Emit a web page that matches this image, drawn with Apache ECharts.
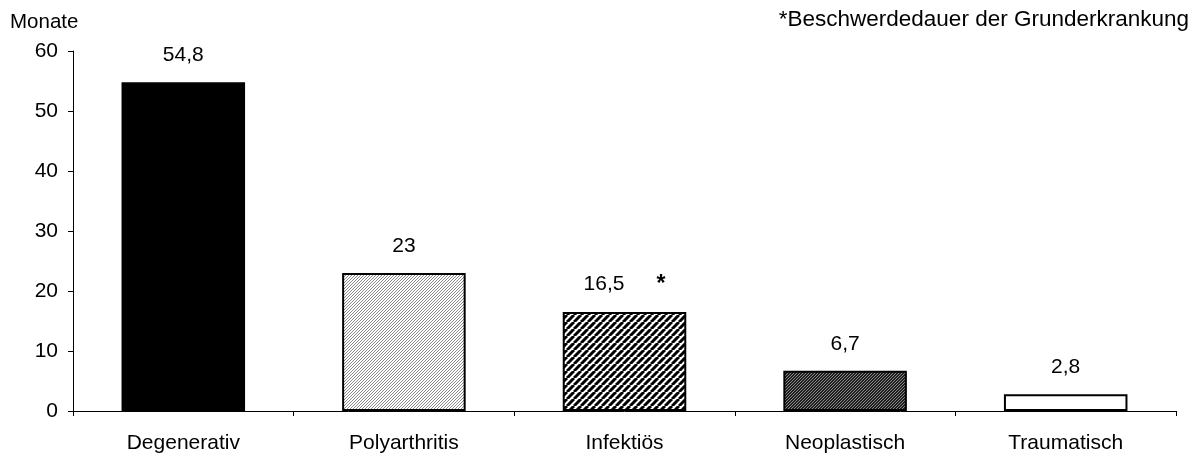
<!DOCTYPE html>
<html>
<head>
<meta charset="utf-8">
<script src="https://cdn.jsdelivr.net/npm/echarts@6/dist/echarts.min.js"></script>
<style>html,body{margin:0;padding:0;background:#fff}#c{width:1199px;height:456px}</style>
</head>
<body>
<div id="c"></div>
<script>
var categories = ['Degenerativ', 'Polyarthritis', 'Infektiös', 'Neoplastisch', 'Traumatisch'];
var values = [54.8, 23, 16.5, 6.7, 2.8];
var valueLabels = ['54,8', '23', '16,5', '6,7', '2,8'];
var labelMarks = ['', '', '*', '', ''];
var yTicks = [0, 10, 20, 30, 40, 50, 60];
var yAxisName = 'Monate';
var footnote = '*Beschwerdedauer der Grunderkrankung';

function hatch(size, bg, fg, w) {
  var c = document.createElement('canvas');
  c.width = size; c.height = size;
  var g = c.getContext('2d');
  g.fillStyle = bg; g.fillRect(0, 0, size, size);
  g.strokeStyle = fg; g.lineWidth = w;
  for (var k = -1; k <= 1; k++) {
    g.beginPath();
    g.moveTo(k * size, size);
    g.lineTo(k * size + size, 0);
    g.stroke();
  }
  return {image: c, repeat: 'repeat'};
}

var fills = [
  '#000000',
  hatch(3, '#ffffff', '#8a8a8a', 1),
  hatch(7, '#ffffff', '#000000', 3),
  hatch(3, '#1e1e1e', '#8a8a8a', 1),
  '#ffffff'
];

var font = '"Liberation Sans", Arial, sans-serif';
var chart = echarts.init(document.getElementById('c'));
chart.setOption({
  animation: false,
  textStyle: {fontFamily: font},
  grid: {left: 73, right: 23, top: 51, bottom: 45},
  graphic: [
    {type: 'text', left: 10, top: 12, style: {text: yAxisName, font: '20.5px ' + font, fill: '#000'}},
    {type: 'text', right: 10, top: 8, style: {text: footnote, font: '22.5px ' + font, fill: '#000'}}
  ],
  xAxis: {
    type: 'category', data: categories,
    axisLine: {lineStyle: {color: '#000', width: 1}},
    axisTick: {show: true, length: 5, lineStyle: {color: '#000'}},
    axisLabel: {color: '#000', fontSize: 21, margin: 22, fontFamily: font}
  },
  yAxis: {
    type: 'value', min: yTicks[0], max: yTicks[yTicks.length - 1], interval: 10,
    axisLine: {show: true, lineStyle: {color: '#000', width: 1}},
    axisTick: {show: true, length: 5, lineStyle: {color: '#000'}},
    splitLine: {show: false},
    axisLabel: {color: '#000', fontSize: 21, margin: 15, fontFamily: font}
  },
  series: [{
    type: 'bar',
    barWidth: '56%',
    data: values.map(function (v, i) {
      return {value: v, itemStyle: {color: fills[i], borderColor: '#000', borderWidth: 2}};
    }),
    label: {
      show: true, position: 'top', distance: 16, color: '#000', fontSize: 21, fontFamily: font,
      formatter: function (p) {
        var m = labelMarks[p.dataIndex];
        return valueLabels[p.dataIndex] + (m ? '{b|' + m + '}' : '');
      },
      rich: {b: {fontSize: 23, fontWeight: 'bold', color: '#000', fontFamily: font, padding: [0, 0, 0, 32]}}
    }
  }]
});
</script>
</body>
</html>
